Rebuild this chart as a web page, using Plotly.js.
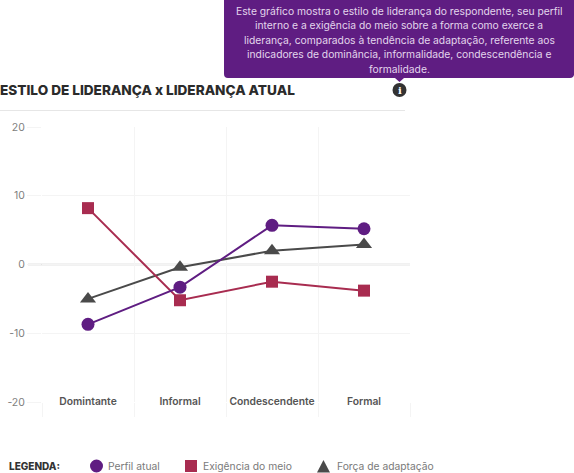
<!DOCTYPE html>
<html><head><meta charset="utf-8">
<script src="https://cdn.plot.ly/plotly-3.0.1.min.js"></script>
<style>html,body{margin:0;padding:0;background:#fff}</style></head>
<body><div id="chart" style="width:574px;height:473px"></div>
<script>
const categories = ["Domintante","Informal","Condescendente","Formal"];
const perfilAtual = [-8.7,-3.3,5.7,5.2];
const exigenciaMeio = [8.2,-5.2,-2.5,-3.8];
const forcaAdaptacao = [-5,-0.4,2,2.9];
const yTicks = [-20,-10,0,10,20];
const tooltipLines = ['Este gráfico mostra o estilo de liderança do respondente, seu perfil','interno e a exigência do meio sobre a forma como exerce a','liderança, comparados à tendência de adaptação, referente aos','indicadores de dominância, informalidade, condescendência e','formalidade.'];
const W=574,H=473,L=42,R=410,T=127,B=402;
const px=x=>(x-L)/(R-L), py=y=>(B-y)/(B-T);
const PURPLE='#5f1d82',RED='#a82c50',DARK='#4a4a4a',GRID='#f4f4f4';
function tr(name,y,color,symbol,size){return {type:'scatter',mode:'lines+markers',x:categories,y:y,name:name,
  line:{color:color,width:2},marker:{color:color,symbol:symbol,size:size},cliponaxis:false,hoverinfo:'skip'};}
const data=[tr('Força de adaptação',forcaAdaptacao,DARK,'triangle-up',14),
  tr('Exigência do meio',exigenciaMeio,RED,'square',12),
  tr('Perfil atual',perfilAtual,PURPLE,'circle',13)];
const P=(x,y)=>px(x).toFixed(4)+','+py(y).toFixed(4);
const ttx0=224,ttx1=574,tty0=0,tty1=78,r=4;
const shapes=[
 {type:'line',xref:'paper',yref:'paper',x0:px(0),x1:px(405),y0:py(110.5),y1:py(110.5),line:{color:'#e6e6e6',width:1}},
 {type:'line',xref:'paper',yref:'y',x0:px(28),x1:1,y0:0,y1:0,line:{color:'#e4e4e4',width:2},layer:'below'},
 {type:'path',xref:'paper',yref:'paper',fillcolor:PURPLE,line:{width:0},
  path:`M ${P(ttx0,tty0)} L ${P(ttx1,tty0)} L ${P(ttx1,tty1-r)} Q ${P(ttx1,tty1)} ${P(ttx1-r,tty1)} L ${P(404,tty1)} L ${P(399.5,tty1+4)} L ${P(395,tty1)} L ${P(ttx0+r,tty1)} Q ${P(ttx0,tty1)} ${P(ttx0,tty1-r)} Z`},
 {type:'circle',xref:'paper',yref:'paper',x0:px(392.5),x1:px(406.5),y0:py(83),y1:py(97),fillcolor:'#333333',line:{width:0}},
 {type:'circle',xref:'paper',yref:'paper',x0:px(90),x1:px(103),y0:py(459.5),y1:py(472.5),fillcolor:PURPLE,line:{width:0}},
 {type:'rect',xref:'paper',yref:'paper',x0:px(185),x1:px(197),y0:py(460),y1:py(472),fillcolor:RED,line:{width:0}},
 {type:'path',xref:'paper',yref:'paper',fillcolor:DARK,line:{width:0},path:`M ${P(317,472.5)} L ${P(330,472.5)} L ${P(323.5,460)} Z`}
];
const ann=(t,x,y,o)=>Object.assign({text:t,xref:'paper',yref:'paper',x:px(x),y:py(y),showarrow:false,xanchor:'left',yanchor:'middle',borderpad:0,font:{family:'Inter',size:10.3,color:'#7a7a7a'}},o||{});
const annotations=[
 ...tooltipLines.map((t,i)=>ann(t,399,10.5+i*14.5,{xanchor:'center',font:{family:'Inter',size:10.3,color:'#e3d5ec'}})),
 ann('<b>i</b>',399.5,90,{xanchor:'center',font:{family:'DejaVu Serif',size:10,color:'#ffffff'}}),
 ann('LEGENDA:',8,466,{font:{family:'Inter',size:10,color:'#333333',weight:800}}),
 ann('Perfil atual',107,466),ann('Exigência do meio',202,466),ann('Força de adaptação',336,466)
];
const layout={width:W,height:H,margin:{l:L,r:W-R,t:T,b:H-B,pad:0},paper_bgcolor:'#fff',plot_bgcolor:'#fff',showlegend:false,
 title:{text:'ESTILO DE LIDERANÇA x LIDERANÇA ATUAL',x:0,xref:'container',xanchor:'left',y:1-90/H,yref:'container',yanchor:'middle',
   font:{family:'Inter',size:13.6,color:'#2b2b2b',weight:800},pad:{t:0,b:0,l:0,r:0}},
 xaxis:{type:'category',categoryorder:'array',categoryarray:categories,range:[-0.5,3.5],tickson:'boundaries',showgrid:true,gridcolor:GRID,gridwidth:1,
   ticks:'outside',ticklen:14,tickcolor:GRID,tickwidth:1,ticklabelstandoff:-8,tickangle:0,tickfont:{family:'Inter',size:10.3,color:'#555555',weight:600},zeroline:false,showline:false,fixedrange:true},
 yaxis:{range:[-20,20],tickvals:yTicks,ticktext:yTicks.map(String),showgrid:true,gridcolor:GRID,gridwidth:1,
   ticks:'outside',ticklen:14,tickcolor:GRID,tickwidth:1,tickfont:{family:'Inter',size:10.5,color:'#808080'},zeroline:false,showline:false,fixedrange:true},
 shapes:shapes,annotations:annotations};
Plotly.newPlot('chart',data,layout,{displayModeBar:false,staticPlot:true});
</script></body></html>
